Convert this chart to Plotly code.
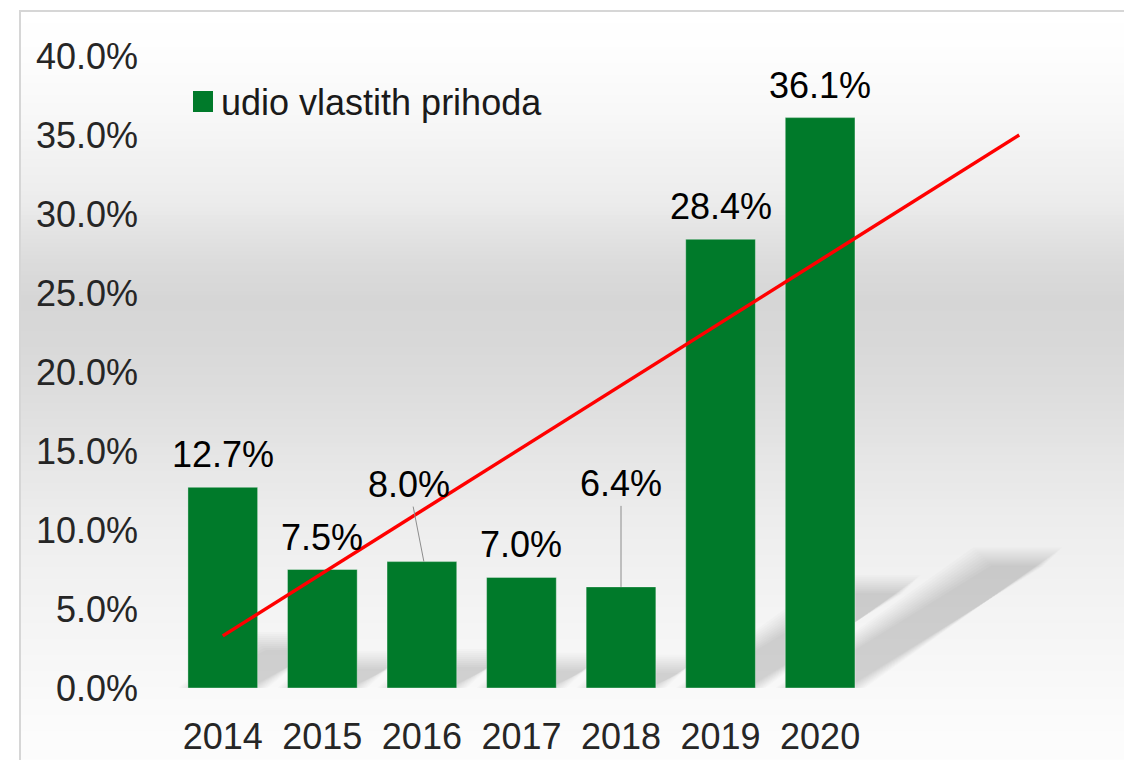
import plotly.graph_objects as go

# data (values in %)
years = ["2014", "2015", "2016", "2017", "2018", "2019", "2020"]
share = [12.7, 7.5, 8.0, 7.0, 6.4, 28.4, 36.1]
labels = ["12.7%", "7.5%", "8.0%", "7.0%", "6.4%", "28.4%", "36.1%"]
y_ticks = [0, 5, 10, 15, 20, 25, 30, 35, 40]
y_tick_labels = ["0.0%", "5.0%", "10.0%", "15.0%", "20.0%", "25.0%", "30.0%", "35.0%", "40.0%"]
series_name = "udio vlastith prihoda"
# linear trendline as drawn, forecast two periods past 2020
trend_x = [0, 8]
trend_y = [3.3, 35.0]

# geometry / styles (page pixels; the page body adds an 8px offset)
OFF = 8
W, H = 1132 - OFF, 760 - OFF
PW, PH = 896, 632
L, T = 173 - OFF, 56 - OFF
R, B = W - L - PW, H - T - PH
FONT = "Liberation Sans, Arial, sans-serif"
GREEN = "#007A2A"


def px_x(p):
    return (p - OFF - L) / PW


def px_y(p):
    return (OFF + T + PH - p) / PH


# vertical grey gradient of the chart area: (page pixel y, grey level)
grad = [(11, 255), (60, 253), (120, 247), (200, 236), (260, 220), (300, 214),
        (340, 216), (400, 222), (460, 230), (520, 237), (600, 243), (680, 248),
        (720, 251), (770, 253)]


def grey_at(y):
    for (y0, g0), (y1, g1) in zip(grad, grad[1:]):
        if y0 <= y <= y1:
            return g0 + (g1 - g0) * (y - y0) / (y1 - y0)
    return grad[-1][1]


shapes = []
step = 4
y = 11
while y < 770:
    g = round(grey_at(y + step / 2))
    shapes.append(dict(type="rect", xref="paper", yref="paper", layer="below",
                       x0=px_x(20), x1=px_x(1140), y0=px_y(y), y1=px_y(y + step + 0.5),
                       fillcolor=f"rgb({g},{g},{g})", line=dict(width=0)))
    y += step

# chart border
shapes.append(dict(type="rect", xref="paper", yref="paper", layer="below",
                   x0=px_x(20), x1=px_x(1140), y0=px_y(11), y1=px_y(775),
                   line=dict(color="#d6d6d6", width=2), fillcolor="rgba(0,0,0,0)"))

# perspective shadows of the bars (soft, built from many faint layers)
cat_px = PW / 9.0
val_px = PH / 40.0
half = 0.35
for i, v in enumerate(share):
    dx = 0.055 * v
    dy = 0.229 * v
    for e in range(-8, 12, 2):
        ex = e / cat_px
        ey = e / val_px
        path = (f"M {i - half - ex},{0} L {i + half + ex},{0} "
                f"L {i + half + dx + ex},{dy + ey} L {i - half + dx - ex},{dy + ey} Z")
        shapes.append(dict(type="path", xref="x", yref="y", layer="below", path=path,
                           fillcolor="rgba(0,0,0,0.017)", line=dict(width=0)))

# manual legend swatch
shapes.append(dict(type="rect", xref="paper", yref="paper", layer="above",
                   x0=px_x(193), x1=px_x(213), y0=px_y(91), y1=px_y(112),
                   fillcolor=GREEN, line=dict(width=0)))

fig = go.Figure()
fig.add_trace(go.Bar(x=list(range(len(years))), y=share, name=series_name, width=0.7,
                     marker=dict(color=GREEN, line=dict(color="rgba(255,255,255,0.35)", width=1)),
                     showlegend=False, hoverinfo="x+y"))
fig.add_trace(go.Scatter(x=trend_x, y=trend_y, mode="lines", name="Linear trend",
                         line=dict(color="#FF0000", width=3.5), showlegend=False,
                         hoverinfo="skip"))

annotations = []
# labels that need a leader line
leader = {2: (-15, -77, 0.02), 4: (0, -103, 0.0)}
for i, (v, t) in enumerate(zip(share, labels)):
    if i in leader:
        ax, ay, off = leader[i]
        annotations.append(dict(x=i + off, y=v, xref="x", yref="y", text=t,
                                showarrow=True, arrowhead=0, arrowwidth=1,
                                arrowcolor="#8c8c8c", ax=ax, ay=ay, standoff=0,
                                font=dict(family=FONT, size=36, color="#000000")))
    else:
        annotations.append(dict(x=i, y=v, xref="x", yref="y", text=t, showarrow=False,
                                yanchor="bottom", yshift=10,
                                font=dict(family=FONT, size=36, color="#000000")))

annotations.append(dict(x=px_x(219), y=px_y(102), xref="paper", yref="paper",
                        text=series_name, showarrow=False, xanchor="left", yanchor="middle",
                        font=dict(family=FONT, size=36, color="#1a1a1a")))

fig.update_layout(
    width=W, height=H,
    margin=dict(l=L, r=R, t=T, b=B, pad=0),
    paper_bgcolor="#ffffff",
    plot_bgcolor="rgba(0,0,0,0)",
    showlegend=False,
    shapes=shapes,
    annotations=annotations,
    font=dict(family=FONT, size=36, color="#262626"),
    xaxis=dict(range=[-0.5, 8.5], tickmode="array", tickvals=list(range(len(years))),
               ticktext=years, showgrid=False, zeroline=False, showline=False,
               ticks="", ticklabelstandoff=24, automargin=False,
               tickfont=dict(family=FONT, size=36, color="#262626")),
    yaxis=dict(range=[0, 40], tickmode="array", tickvals=y_ticks, ticktext=y_tick_labels,
               showgrid=False, zeroline=False, showline=False,
               ticks="", ticklabelstandoff=34, automargin=False,
               tickfont=dict(family=FONT, size=36, color="#262626")),
)

fig.write_html("out.html")
